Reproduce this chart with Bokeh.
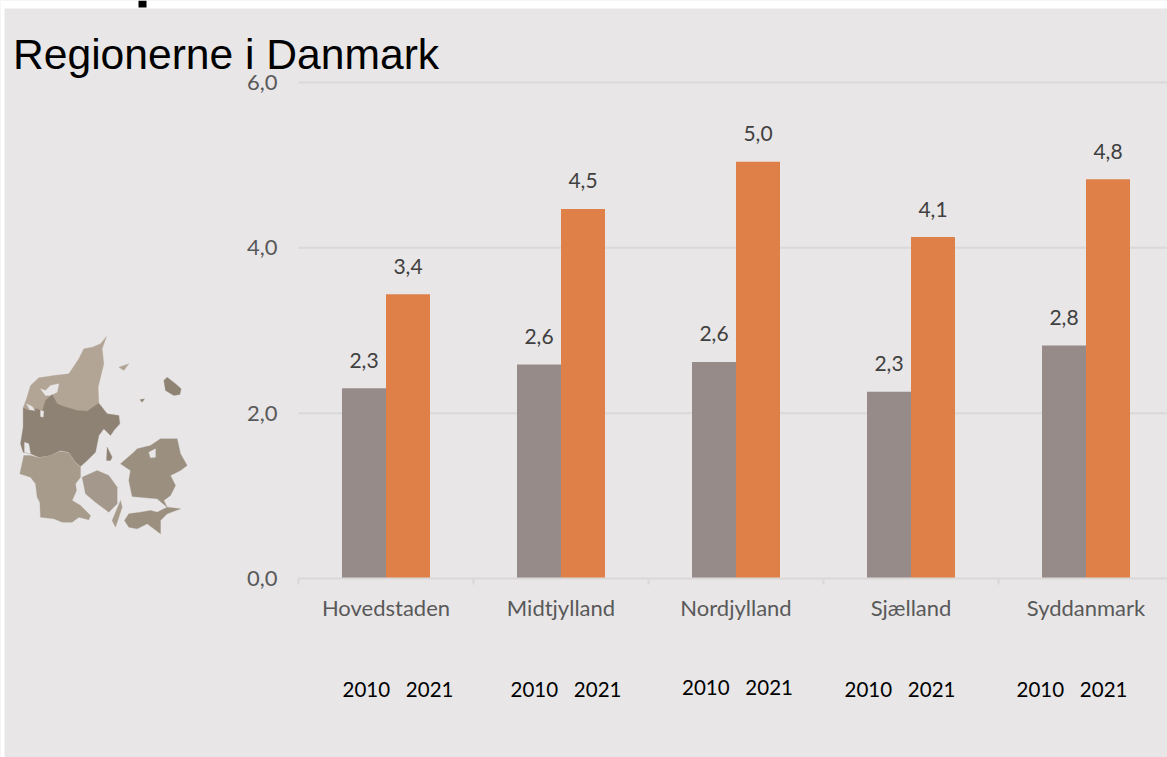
from bokeh.plotting import figure
from bokeh.embed import file_html
from bokeh.resources import INLINE
from bokeh.models import (Range1d, FixedTicker, Label, BoxAnnotation, PolyAnnotation)
from bokeh.core.properties import value

categories = ["Hovedstaden", "Midtjylland", "Nordjylland", "Sjælland", "Syddanmark"]
values_2010 = [2.30, 2.59, 2.62, 2.26, 2.82]
values_2021 = [3.44, 4.47, 5.04, 4.13, 4.83]
labels_2010 = ["2,3", "2,6", "2,6", "2,3", "2,8"]
labels_2021 = ["3,4", "4,5", "5,0", "4,1", "4,8"]
y_ticks = [0, 2, 4, 6]
y_tick_labels = ["0,0", "2,0", "4,0", "6,0"]
year_pairs = ["2010\u00a0\u00a0\u00a02021"] * 5
year_x = [397.5, 565.5, 737, 899.5, 1071.5]
year_y = [688, 688, 686, 688, 688]

BG = "#E8E6E7"
FONT = "Lato"
W, H = 1167, 757
PLOT_L, PLOT_B, UX, UY = 298, 578, 175, 496 / 6  # where the zero point lies, pixels per unit


def sy(y):  # annotation screen units count upwards from the canvas bottom
    return H - y


p = figure(width=W, height=H, output_backend="svg", toolbar_location=None,
           x_range=Range1d(-PLOT_L / UX, (W - PLOT_L) / UX),
           y_range=Range1d(-(H - PLOT_B) / UY, PLOT_B / UY),
           min_border=0, background_fill_color=BG, border_fill_color=BG, outline_line_color=None)

idx = list(range(len(categories)))
w = 44 / UX
x_end = (W - PLOT_L) / UX
p.xgrid.visible = False
p.ygrid.visible = False
p.segment(x0=[0] * 3, x1=[x_end] * 3, y0=y_ticks[1:], y1=y_ticks[1:], line_color="#DAD8D8", line_width=2)
p.vbar(x=[i + 0.5 - w / 2 for i in idx], top=values_2010, width=w, color="#968B88", line_color=None)
p.vbar(x=[i + 0.5 + w / 2 for i in idx], top=values_2021, width=w, color="#DE8047", line_color=None)
for off, vals, labs in ((-w / 2, values_2010, labels_2010), (w / 2, values_2021, labels_2021)):
    p.text(x=[i + 0.5 + off for i in idx], y=vals, text=labs, text_align="center", text_baseline="middle",
           y_offset=-28, text_font=value(FONT), text_font_size="21px", text_color="#404040")

ax = p.xaxis[0]
ax.fixed_location = 0
ax.bounds = (0, x_end)
ax.ticker = FixedTicker(ticks=[i + 0.5 for i in idx], minor_ticks=[0, 1, 2, 3, 4])
ax.major_label_overrides = {i + 0.5: c for i, c in zip(idx, categories)}
ax.axis_line_color = "#D9D7D7"
ax.axis_line_width = 2
ax.major_tick_line_color = None
ax.minor_tick_line_color = "#D9D7D7"
ax.minor_tick_line_width = 2
ax.minor_tick_out = 6
ax.minor_tick_in = 0
ax.major_label_standoff = 9
ax.major_label_text_font = FONT
ax.major_label_text_font_size = "22px"
ax.major_label_text_color = "#595959"

ay = p.yaxis[0]
ay.fixed_location = 0
ay.ticker = FixedTicker(ticks=y_ticks)
ay.major_label_overrides = dict(zip(y_ticks, y_tick_labels))
ay.axis_line_color = None
ay.major_tick_line_color = None
ay.minor_tick_line_color = None
ay.major_label_standoff = 15
ay.major_label_text_font = FONT
ay.major_label_text_font_size = "22px"
ay.major_label_text_color = "#595959"

# page strips of the source screenshot
for l, r, t, b, c in [(0, W, 0, 8, "white"), (0, 4, 0, H, "white"), (138, 146, 0, 7, "black")]:
    p.add_layout(BoxAnnotation(left=l, right=r, top=sy(t), bottom=sy(b), left_units="screen", right_units="screen",
                               top_units="screen", bottom_units="screen", fill_color=c, fill_alpha=1,
                               line_color=None, level="overlay"))

p.add_layout(Label(x=12.5, y=sy(53), x_units="screen", y_units="screen", text="Regionerne i Danmark",
                   text_font="Liberation Sans", text_font_size="42.6px", text_color="black",
                   text_baseline="middle"))
for s, x, y in zip(year_pairs, year_x, year_y):
    p.add_layout(Label(x=x, y=sy(y), x_units="screen", y_units="screen", text=s, text_font=FONT,
                       text_font_size="20.5px", text_color="black", text_align="center", text_baseline="middle"))

# decorative map, traced in pixels of a 3x crop with origin (0, 320)
NORTH = "#B3A595"; MID = "#8D8273"; SOUTH = "#A79B8C"; FUNEN = "#A3988B"; ZEAL = "#9B9080"; BORN = "#8F8473"
map_shapes = [
    (NORTH, [(318,48),(300,70),(275,80),(250,85),(235,115),(205,160),(160,165),(115,172),(90,195),(78,235),(68,262),(85,275),(110,275),(130,280),(155,260),(175,265),(210,268),(245,280),(270,275),(295,250),(293,200),(310,130),(305,85)]),
    (BG, [(120,205),(135,210),(150,195),(175,190),(170,215),(150,225),(135,225)]),
    (MID, [(68,262),(85,270),(110,265),(125,272),(135,240),(155,222),(170,250),(190,258),(230,270),(260,272),(295,248),(320,280),(355,285),(358,310),(340,330),(330,345),(310,325),(295,345),(285,395),(260,420),(240,438),(225,425),(205,395),(180,390),(150,405),(115,410),(90,400),(68,395),(60,370),(68,320)]),
    (BG, [(72,365),(85,370),(90,400),(72,395)]),
    (BG, [(78,250),(95,258),(103,270),(88,268)]),
    (BG, [(120,270),(130,272),(128,290),(120,288)]),
    (SOUTH, [(70,405),(90,405),(115,412),(150,405),(180,392),(205,397),(225,427),(240,440),(240,470),(225,490),(228,510),(215,540),(240,555),(270,585),(265,598),(235,590),(215,605),(185,605),(160,595),(120,590),(118,545),(110,530),(105,490),(90,470),(58,460)]),
    (FUNEN, [(245,470),(290,450),(325,465),(350,500),(350,550),(325,575),(285,545),(255,520)]),
    (ZEAL, [(360,430),(400,395),(410,385),(450,375),(480,355),(530,355),(540,400),(560,435),(540,450),(510,465),(525,495),(510,525),(490,540),(500,560),(470,535),(395,528),(385,480),(390,450)]),
    (BG, [(445,395),(465,385),(465,410),(450,412)]),
    (ZEAL, [(372,600),(385,580),(420,575),(450,570),(470,575),(500,560),(540,565),(500,580),(480,600),(480,640),(440,610),(410,625),(385,620)]),
    (BORN, [(490,180),(500,170),(525,190),(542,205),(538,222),(520,225),(495,210)]),
    (NORTH, [(355,140),(385,130),(370,150)]),
    (MID, [(418,238),(432,235),(425,245)]),
    (SOUTH, [(360,540),(365,560),(345,620),(335,600)]),
    (MID, [(320,380),(335,410),(330,420),(318,420)]),
]
for col, pts in map_shapes:
    p.add_layout(PolyAnnotation(xs=[a / 3 for a, _ in pts], ys=[sy(320 + b / 3) for _, b in pts],
                                xs_units="screen", ys_units="screen", fill_color=col, fill_alpha=1,
                                line_color=col, line_width=1, level="annotation"))

open("out.html", "w").write(file_html(p, INLINE))
